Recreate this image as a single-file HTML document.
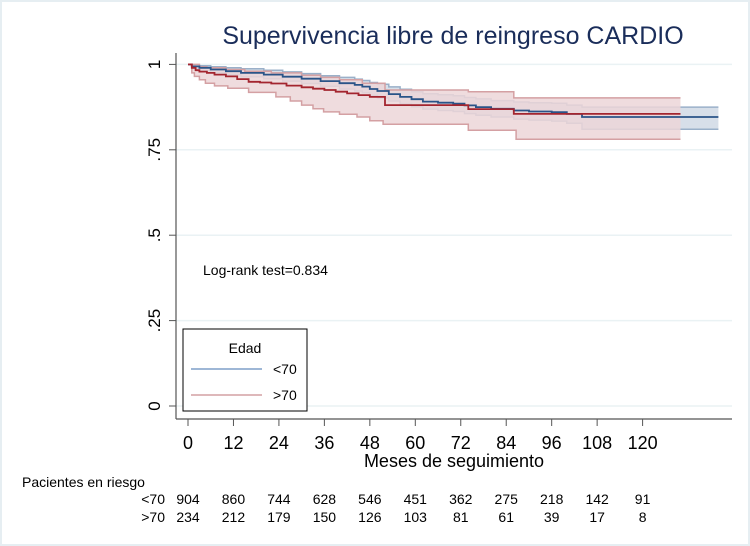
<!DOCTYPE html>
<html><head><meta charset="utf-8"><style>
html,body{margin:0;padding:0;background:#fff}
svg{display:block;font-family:"Liberation Sans",sans-serif}
</style></head><body>
<svg id="c" width="750" height="546" viewBox="0 0 750 546">
<rect x="1" y="1" width="748" height="544" fill="#fff" stroke="#e6eef2" stroke-width="2"/>
<text x="453" y="44" text-anchor="middle" font-size="25" fill="#1a2d5a">Supervivencia libre de reingreso CARDIO</text>
<g id="grid"></g><g id="bands"></g><g id="lines"></g><g id="axes"></g>
<text x="203" y="275" font-size="14" fill="#000">Log-rank test=0.834</text>
<g>
<rect x="183" y="329" width="124" height="82" fill="#fff" stroke="#000" stroke-width="1"/>
<text x="245" y="353" text-anchor="middle" font-size="14">Edad</text>
<line x1="191" y1="369" x2="262" y2="369" stroke="#7f9fc9" stroke-width="1.5"/>
<text x="273" y="374" font-size="14">&lt;70</text>
<line x1="191" y1="395" x2="262" y2="395" stroke="#d4a0a3" stroke-width="1.5"/>
<text x="273" y="400" font-size="14">&gt;70</text>
</g>
<text x="454" y="467" text-anchor="middle" font-size="18">Meses de seguimiento</text>
<text x="22" y="487" font-size="14">Pacientes en riesgo</text>
<g id="risk"></g>
</svg>
<script>
const xTicks=[0,12,24,36,48,60,72,84,96,108,120];
const yTicks=[0,0.25,0.5,0.75,1];
const yLabels=["0",".25",".5",".75","1"];
const redT=[0,1,2,3,5,7,10,13,16,19,22,26,30,33,36,39,42,45,48,52,74,86,130];
const redS=[1,0.99,0.983,0.979,0.975,0.97,0.965,0.957,0.949,0.947,0.944,0.938,0.933,0.929,0.925,0.92,0.915,0.91,0.905,0.881,0.869,0.855,0.855];
const redUpT=[0,3,5,10,15,22,30,35,40,46,52,74,86,130];
const redUp=[1,0.993,0.99,0.985,0.98,0.975,0.968,0.962,0.955,0.945,0.925,0.92,0.902,0.902];
const redLoT=[0,1,1.7,3,4.6,7,10.5,16,23.2,27,30,33,35.8,40,44.6,48,51.5,74,86.6,130];
const redLo=[1,0.975,0.965,0.955,0.945,0.937,0.93,0.918,0.905,0.893,0.881,0.87,0.861,0.854,0.846,0.835,0.825,0.807,0.781,0.781];
const blueT=[0,1,3,6,10,14,20,25,30,35,40,44,46,48,50,53,56,59,62,66,70,73,76,80,86,90,96,100,104,140];
const blueS=[1,0.994,0.99,0.985,0.98,0.975,0.97,0.964,0.958,0.951,0.945,0.94,0.935,0.928,0.922,0.913,0.905,0.898,0.891,0.888,0.885,0.88,0.875,0.87,0.865,0.862,0.86,0.855,0.846,0.846];
const blueUp=[1,0.998,0.996,0.993,0.99,0.987,0.983,0.978,0.973,0.967,0.962,0.957,0.953,0.947,0.942,0.934,0.927,0.92,0.914,0.911,0.908,0.903,0.899,0.894,0.89,0.888,0.886,0.881,0.875,0.875];
const blueLo=[1,0.988,0.982,0.976,0.97,0.964,0.958,0.951,0.944,0.936,0.928,0.922,0.917,0.909,0.902,0.893,0.884,0.876,0.869,0.865,0.862,0.856,0.851,0.846,0.84,0.837,0.834,0.828,0.81,0.81];
const riskLt=[904,860,744,628,546,451,362,275,218,142,91];
const riskGt=[234,212,179,150,126,103,81,61,39,17,8];
const X=m=>188+m*454.6/120, Y=v=>406-v*341.6;
const NS="http://www.w3.org/2000/svg";
function mk(p,tag,at){const e=document.createElementNS(NS,tag);for(const k in at)e.setAttribute(k,at[k]);document.getElementById(p).appendChild(e);return e;}
function stepPts(t,v){let p=[];for(let i=0;i<t.length;i++){if(i>0)p.push([X(t[i]),Y(v[i-1])]);p.push([X(t[i]),Y(v[i])]);}return p;}
function pstr(p){return p.map(q=>q[0].toFixed(1)+","+q[1].toFixed(1)).join(" ");}
yTicks.forEach((v,i)=>{
 let g=mk("grid","line",{x1:176,x2:732,y1:Y(v),y2:Y(v),stroke:"#eaf2f4","stroke-width":1.5});
 
 
 let t=mk("axes","line",{x1:169,x2:176,y1:Y(v),y2:Y(v),stroke:"#555"});
 
 
 let l=mk("axes","text",{x:0,y:0,"font-size":17,"text-anchor":"middle",transform:`translate(160,${Y(v)}) rotate(-90)`});
 l.textContent=yLabels[i];
 
 
});
let ax=mk("axes","line",{x1:176,x2:176,y1:53,y2:419,stroke:"#555","stroke-width":1.2});


let bx=mk("axes","line",{x1:176,x2:732,y1:419,y2:419,stroke:"#555","stroke-width":1.2});


xTicks.forEach((m,i)=>{
 let t=mk("axes","line",{x1:X(m),x2:X(m),y1:419,y2:426,stroke:"#555"});
 
 
 let l=mk("axes","text",{x:X(m),y:449,"font-size":18,"text-anchor":"middle"});
 l.textContent=m;
 
 
 let a=mk("risk","text",{x:X(m),y:504,"font-size":14,"text-anchor":"middle"});
 a.textContent=riskLt[i];
 
 
 let b=mk("risk","text",{x:X(m),y:522,"font-size":14,"text-anchor":"middle"});
 b.textContent=riskGt[i];
 
 
});
let r1=mk("risk","text",{x:165,y:504,"font-size":14,"text-anchor":"end"});r1.textContent="<70";


let r2=mk("risk","text",{x:165,y:522,"font-size":14,"text-anchor":"end"});r2.textContent=">70";


function band(tu,u,tl,l,fill,stroke,name){
 const up=stepPts(tu,u),lo=stepPts(tl,l);
 let p=mk("bands","polygon",{points:pstr(up.concat(lo.slice().reverse())),fill:fill,stroke:"none"});
 
 
 let a=mk("bands","polyline",{points:pstr(up),fill:"none",stroke:stroke,"stroke-width":1.5});
 
 
 let b=mk("bands","polyline",{points:pstr(lo),fill:"none",stroke:stroke,"stroke-width":1.5});
 
 
}
band(blueT,blueUp,blueT,blueLo,"rgba(205,215,228,0.8)","#9ab0c9","lt70");
band(redUpT,redUp,redLoT,redLo,"rgba(236,214,216,0.85)","#d4a0a3","gt70");
let bl=mk("lines","polyline",{points:pstr(stepPts(blueT,blueS)),fill:"none",stroke:"#2a5488","stroke-width":1.8});


let rl=mk("lines","polyline",{points:pstr(stepPts(redT,redS)),fill:"none",stroke:"#a3252f","stroke-width":1.8});


</script>
</body></html>
